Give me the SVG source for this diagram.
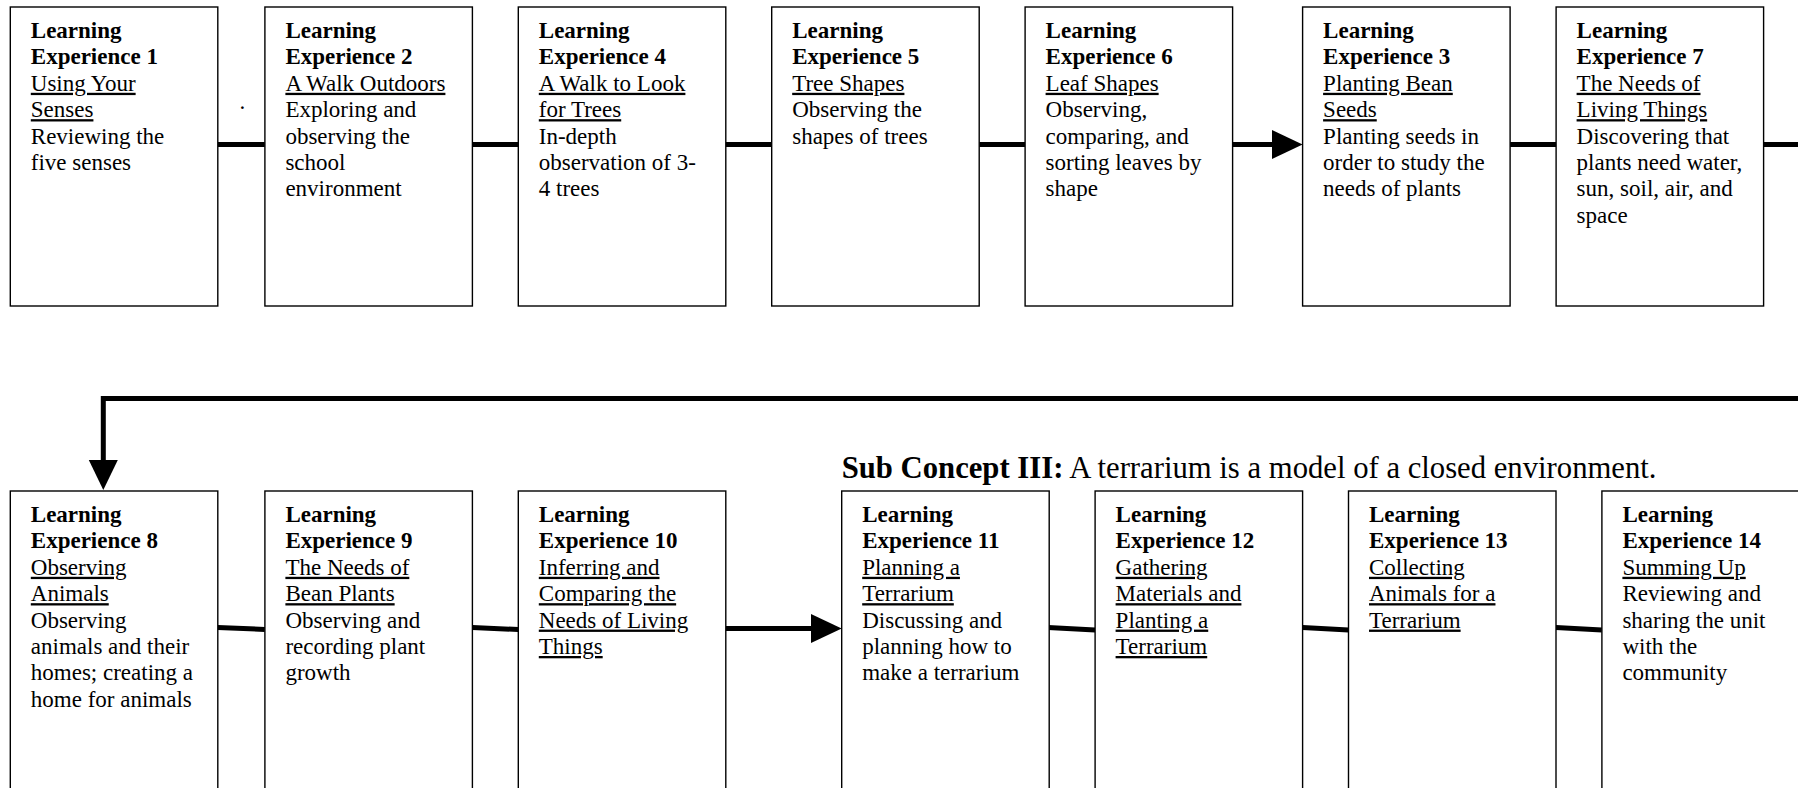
<svg xmlns="http://www.w3.org/2000/svg" width="1798" height="788" viewBox="0 0 1798 788">
<style>
.box{fill:#fff;stroke:#000;stroke-width:1.4}
.t{font-family:"Liberation Serif","Times New Roman",serif;font-size:23px;fill:#000}
.b{font-weight:bold}
.u{text-decoration:underline}
.c{stroke:#000;stroke-width:5;fill:none}
.ah{fill:#000;stroke:none}
.h{font-family:"Liberation Serif","Times New Roman",serif;font-size:30.7px;fill:#000}
</style>
<rect width="1798" height="788" fill="#fff"/>

<g id="connectors">
<line class="c" x1="217.8" y1="144.5" x2="264.9" y2="144.5"/>
<line class="c" x1="472.4" y1="144.5" x2="518.3" y2="144.5"/>
<line class="c" x1="725.8" y1="144.5" x2="771.7" y2="144.5"/>
<line class="c" x1="979.2" y1="144.5" x2="1025.1" y2="144.5"/>
<line class="c" x1="1232.6" y1="144.5" x2="1274" y2="144.5"/>
<polygon class="ah" points="1272,130 1302.6,144.5 1272,159"/>
<line class="c" x1="1510.1" y1="144.5" x2="1556.1" y2="144.5"/>
<line class="c" x1="1763.6" y1="144.5" x2="1800" y2="144.5"/>
<polyline class="c" points="1800,398.5 103.3,398.5 103.3,462"/>
<polygon class="ah" points="88.8,460 117.8,460 103.3,490"/>
<line class="c" x1="217.8" y1="627.5" x2="264.9" y2="629.5"/>
<line class="c" x1="472.4" y1="627.5" x2="518.3" y2="629.5"/>
<line class="c" x1="725.8" y1="628.5" x2="813" y2="628.5"/>
<polygon class="ah" points="811,614 841.7,628.5 811,643"/>
<line class="c" x1="1048.1" y1="627.5" x2="1095.1" y2="630"/>
<line class="c" x1="1302.6" y1="627.5" x2="1348.5" y2="630"/>
<line class="c" x1="1555.9" y1="627.5" x2="1601.9" y2="630"/>
<text class="t" x="239.5" y="109">.</text>
</g>

<g id="subconcept">
<text class="h" x="841.7" y="478"><tspan font-weight="bold">Sub Concept III:</tspan> A terrarium is a model of a closed environment.</text>
</g>

<g id="le1">
<rect class="box" x="10.3" y="7" width="207.5" height="299"/>
<text class="t b" x="30.8" y="38">Learning</text>
<text class="t b" x="30.8" y="64.4">Experience 1</text>
<text class="t u" x="30.8" y="90.8">Using Your</text>
<text class="t u" x="30.8" y="117.2">Senses</text>
<text class="t" x="30.8" y="143.6">Reviewing the</text>
<text class="t" x="30.8" y="170">five senses</text>
</g>

<g id="le2">
<rect class="box" x="264.9" y="7" width="207.5" height="299"/>
<text class="t b" x="285.4" y="38">Learning</text>
<text class="t b" x="285.4" y="64.4">Experience 2</text>
<text class="t u" x="285.4" y="90.8">A Walk Outdoors</text>
<text class="t" x="285.4" y="117.2">Exploring and</text>
<text class="t" x="285.4" y="143.6">observing the</text>
<text class="t" x="285.4" y="170">school</text>
<text class="t" x="285.4" y="196.4">environment</text>
</g>

<g id="le4">
<rect class="box" x="518.3" y="7" width="207.5" height="299"/>
<text class="t b" x="538.8" y="38">Learning</text>
<text class="t b" x="538.8" y="64.4">Experience 4</text>
<text class="t u" x="538.8" y="90.8">A Walk to Look</text>
<text class="t u" x="538.8" y="117.2">for Trees</text>
<text class="t" x="538.8" y="143.6">In-depth</text>
<text class="t" x="538.8" y="170">observation of 3-</text>
<text class="t" x="538.8" y="196.4">4 trees</text>
</g>

<g id="le5">
<rect class="box" x="771.7" y="7" width="207.5" height="299"/>
<text class="t b" x="792.2" y="38">Learning</text>
<text class="t b" x="792.2" y="64.4">Experience 5</text>
<text class="t u" x="792.2" y="90.8">Tree Shapes</text>
<text class="t" x="792.2" y="117.2">Observing the</text>
<text class="t" x="792.2" y="143.6">shapes of trees</text>
</g>

<g id="le6">
<rect class="box" x="1025.1" y="7" width="207.5" height="299"/>
<text class="t b" x="1045.6" y="38">Learning</text>
<text class="t b" x="1045.6" y="64.4">Experience 6</text>
<text class="t u" x="1045.6" y="90.8">Leaf Shapes</text>
<text class="t" x="1045.6" y="117.2">Observing,</text>
<text class="t" x="1045.6" y="143.6">comparing, and</text>
<text class="t" x="1045.6" y="170">sorting leaves by</text>
<text class="t" x="1045.6" y="196.4">shape</text>
</g>

<g id="le3">
<rect class="box" x="1302.6" y="7" width="207.5" height="299"/>
<text class="t b" x="1323.1" y="38">Learning</text>
<text class="t b" x="1323.1" y="64.4">Experience 3</text>
<text class="t u" x="1323.1" y="90.8">Planting Bean</text>
<text class="t u" x="1323.1" y="117.2">Seeds</text>
<text class="t" x="1323.1" y="143.6">Planting seeds in</text>
<text class="t" x="1323.1" y="170">order to study the</text>
<text class="t" x="1323.1" y="196.4">needs of plants</text>
</g>

<g id="le7">
<rect class="box" x="1556.1" y="7" width="207.5" height="299"/>
<text class="t b" x="1576.6" y="38">Learning</text>
<text class="t b" x="1576.6" y="64.4">Experience 7</text>
<text class="t u" x="1576.6" y="90.8">The Needs of</text>
<text class="t u" x="1576.6" y="117.2">Living Things</text>
<text class="t" x="1576.6" y="143.6">Discovering that</text>
<text class="t" x="1576.6" y="170">plants need water,</text>
<text class="t" x="1576.6" y="196.4">sun, soil, air, and</text>
<text class="t" x="1576.6" y="222.8">space</text>
</g>

<g id="le8">
<rect class="box" x="10.3" y="491" width="207.5" height="300"/>
<text class="t b" x="30.8" y="522">Learning</text>
<text class="t b" x="30.8" y="548.4">Experience 8</text>
<text class="t u" x="30.8" y="574.8">Observing</text>
<text class="t u" x="30.8" y="601.2">Animals</text>
<text class="t" x="30.8" y="627.6">Observing</text>
<text class="t" x="30.8" y="654">animals and their</text>
<text class="t" x="30.8" y="680.4">homes; creating a</text>
<text class="t" x="30.8" y="706.8">home for animals</text>
</g>

<g id="le9">
<rect class="box" x="264.9" y="491" width="207.5" height="300"/>
<text class="t b" x="285.4" y="522">Learning</text>
<text class="t b" x="285.4" y="548.4">Experience 9</text>
<text class="t u" x="285.4" y="574.8">The Needs of</text>
<text class="t u" x="285.4" y="601.2">Bean Plants</text>
<text class="t" x="285.4" y="627.6">Observing and</text>
<text class="t" x="285.4" y="654">recording plant</text>
<text class="t" x="285.4" y="680.4">growth</text>
</g>

<g id="le10">
<rect class="box" x="518.3" y="491" width="207.5" height="300"/>
<text class="t b" x="538.8" y="522">Learning</text>
<text class="t b" x="538.8" y="548.4">Experience 10</text>
<text class="t u" x="538.8" y="574.8">Inferring and</text>
<text class="t u" x="538.8" y="601.2">Comparing the</text>
<text class="t u" x="538.8" y="627.6">Needs of Living</text>
<text class="t u" x="538.8" y="654">Things</text>
</g>

<g id="le11">
<rect class="box" x="841.7" y="491" width="207.5" height="300"/>
<text class="t b" x="862.2" y="522">Learning</text>
<text class="t b" x="862.2" y="548.4">Experience 11</text>
<text class="t u" x="862.2" y="574.8">Planning a</text>
<text class="t u" x="862.2" y="601.2">Terrarium</text>
<text class="t" x="862.2" y="627.6">Discussing and</text>
<text class="t" x="862.2" y="654">planning how to</text>
<text class="t" x="862.2" y="680.4">make a terrarium</text>
</g>

<g id="le12">
<rect class="box" x="1095.1" y="491" width="207.5" height="300"/>
<text class="t b" x="1115.6" y="522">Learning</text>
<text class="t b" x="1115.6" y="548.4">Experience 12</text>
<text class="t u" x="1115.6" y="574.8">Gathering</text>
<text class="t u" x="1115.6" y="601.2">Materials and</text>
<text class="t u" x="1115.6" y="627.6">Planting a</text>
<text class="t u" x="1115.6" y="654">Terrarium</text>
</g>

<g id="le13">
<rect class="box" x="1348.5" y="491" width="207.5" height="300"/>
<text class="t b" x="1369" y="522">Learning</text>
<text class="t b" x="1369" y="548.4">Experience 13</text>
<text class="t u" x="1369" y="574.8">Collecting</text>
<text class="t u" x="1369" y="601.2">Animals for a</text>
<text class="t u" x="1369" y="627.6">Terrarium</text>
</g>

<g id="le14">
<rect class="box" x="1601.9" y="491" width="207.5" height="300"/>
<text class="t b" x="1622.4" y="522">Learning</text>
<text class="t b" x="1622.4" y="548.4">Experience 14</text>
<text class="t u" x="1622.4" y="574.8">Summing Up</text>
<text class="t" x="1622.4" y="601.2">Reviewing and</text>
<text class="t" x="1622.4" y="627.6">sharing the unit</text>
<text class="t" x="1622.4" y="654">with the</text>
<text class="t" x="1622.4" y="680.4">community</text>
</g>
</svg>
